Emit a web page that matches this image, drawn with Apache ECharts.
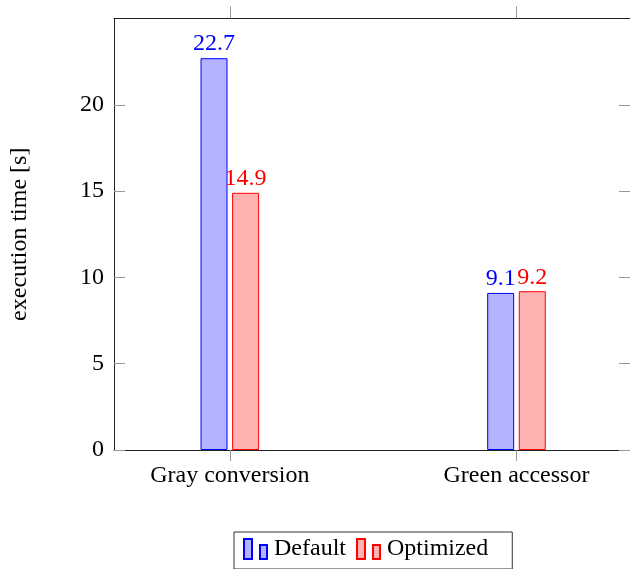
<!DOCTYPE html>
<html>
<head>
<meta charset="utf-8">
<script src="https://cdn.jsdelivr.net/npm/echarts@6/dist/echarts.min.js"></script>
<style>html,body{margin:0;padding:0;background:#fff;}#c{width:630px;height:569px;}</style>
</head>
<body>
<div id="c"></div>
<script>
const categories = ['Gray conversion', 'Green accessor'];
const defaultValues = [22.7, 9.1];
const optimizedValues = [14.9, 9.2];
const yTicks = [0, 5, 10, 15, 20];
const seriesNames = ['Default', 'Optimized'];

const FONT = 'Liberation Serif';
const FS = 24;
const chart = echarts.init(document.getElementById('c'), null, {renderer: 'canvas'});
const catIdx = categories.map((c, i) => i);
const toPairs = vals => vals.map((v, i) => [i, v]);
const legendIcon = 'path://M0,0 h8 v20 h-8 z M16,6 h7 v14 h-7 z';

chart.setOption({
  animation: false,
  grid: {left: 114, top: 18.5, width: 517.7, height: 431.5, containLabel: false},
  xAxis: [{
    type: 'value', min: -0.404, max: 1.396, position: 'bottom',
    axisLine: {show: true, onZero: false, lineStyle: {color: '#222', width: 1}},
    axisTick: {show: true, inside: false, length: 11, customValues: catIdx, lineStyle: {color: '#999'}},
    axisLabel: {customValues: catIdx, formatter: v => categories[Math.round(v)] || '', fontFamily: FONT, fontSize: FS, color: '#000', margin: 14},
    splitLine: {show: false}
  }, {
    type: 'value', min: -0.404, max: 1.396, position: 'top',
    axisLine: {show: true, onZero: false, lineStyle: {color: '#222', width: 1}},
    axisTick: {show: true, inside: false, length: 12, customValues: catIdx, lineStyle: {color: '#999'}},
    axisLabel: {show: false},
    splitLine: {show: false}
  }],
  yAxis: [{
    type: 'value', min: 0, max: 25, interval: 5, position: 'left',
    name: 'execution time [s]', nameLocation: 'middle', nameGap: 82, nameRotate: 90,
    nameTextStyle: {fontFamily: FONT, fontSize: FS, color: '#000'},
    axisLine: {show: true, onZero: false, lineStyle: {color: '#222', width: 1}},
    axisTick: {show: true, inside: true, length: 11, customValues: yTicks, lineStyle: {color: '#999'}},
    axisLabel: {customValues: yTicks, fontFamily: FONT, fontSize: FS, color: '#000', margin: 10},
    splitLine: {show: false}
  }, {
    type: 'value', min: 0, max: 25, interval: 5, position: 'right',
    axisLine: {show: true, onZero: false, lineStyle: {color: '#222', width: 1}},
    axisTick: {show: true, inside: true, length: 11, customValues: yTicks, lineStyle: {color: '#999'}},
    axisLabel: {show: false},
    splitLine: {show: false}
  }],
  legend: {
    data: seriesNames,
    top: 532, left: 234,
    orient: 'horizontal',
    icon: legendIcon,
    itemWidth: 23, itemHeight: 20, itemGap: 10,
    padding: [5, 24, 8, 9],
    borderColor: '#333', borderWidth: 1,
    textStyle: {fontFamily: FONT, fontSize: FS, color: '#000', padding: [2, 0, 0, 2]}
  },
  series: [{
    name: seriesNames[0], type: 'bar', xAxisIndex: 0, yAxisIndex: 0,
    data: toPairs(defaultValues),
    barWidth: 27, barGap: '17%',
    itemStyle: {color: '#b3b3ff', borderColor: '#0000ff', borderWidth: 1},
    label: {show: true, position: 'top', distance: 2, formatter: p => p.value[1].toFixed(1), fontFamily: FONT, fontSize: FS, color: '#0000ff'}
  }, {
    name: seriesNames[1], type: 'bar', xAxisIndex: 0, yAxisIndex: 0,
    data: toPairs(optimizedValues),
    barWidth: 27, barGap: '17%',
    itemStyle: {color: '#ffb3b3', borderColor: '#ff0000', borderWidth: 1},
    label: {show: true, position: 'top', distance: 2, formatter: p => p.value[1].toFixed(1), fontFamily: FONT, fontSize: FS, color: '#ff0000'}
  }]
});
</script>
</body>
</html>
